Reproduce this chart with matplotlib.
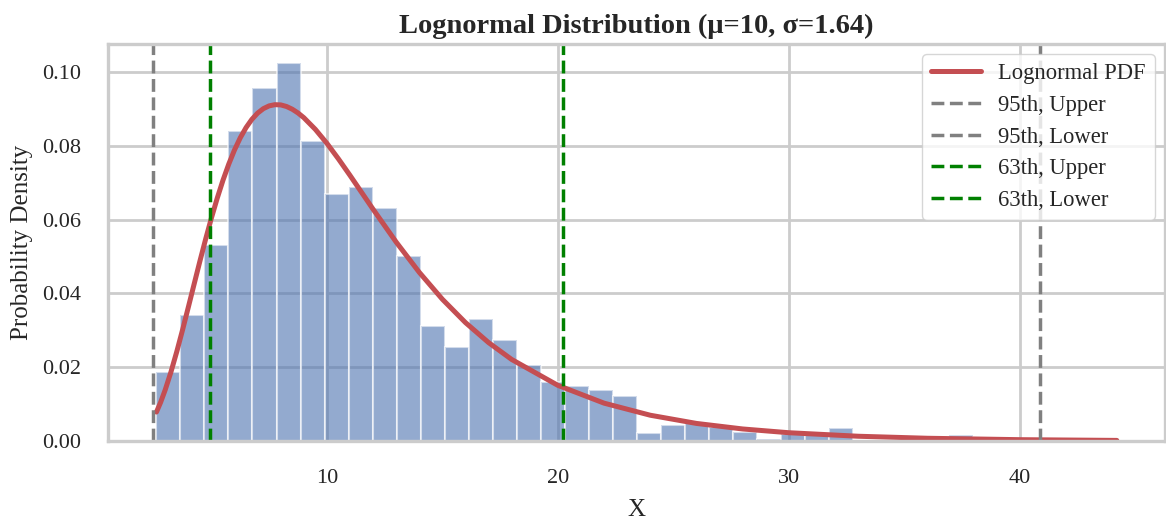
import numpy as np
import matplotlib
matplotlib.use('Agg')
import matplotlib.pyplot as plt
import seaborn as sns

# histogram: 40 equal bins between sample min and max, density heights
bin_lo = 2.62
bin_hi = 44.2
bin_heights = [0.0186, 0.0341, 0.0532, 0.0840, 0.0956, 0.1024, 0.0813, 0.0668, 0.0689, 0.0631,
               0.0502, 0.0313, 0.0255, 0.0332, 0.0273, 0.0207, 0.0159, 0.0148, 0.0139, 0.0121,
               0.0023, 0.0043, 0.0050, 0.0039, 0.0025, 0.0007, 0.0020, 0.0020, 0.0035, 0.0,
               0.0, 0.0, 0.0, 0.0018, 0.0, 0.0, 0.0, 0.0, 0.0, 0.0]

# lognormal pdf curve
pdf_x = [2.62, 2.8, 3.0, 3.25, 3.5, 3.75, 4.0, 4.25, 4.5, 4.75, 5.0, 5.25, 5.5, 5.75, 6.0,
         6.25, 6.5, 6.75, 7.0, 7.25, 7.5, 7.75, 8.0, 8.25, 8.5, 8.75, 9.0, 9.5, 10, 10.5,
         11, 11.5, 12, 13, 14, 15, 16, 17, 18, 20, 22, 24, 26, 28, 30, 33, 36, 40, 44.2]
pdf_y = [0.00788, 0.01051, 0.01391, 0.01878, 0.02425, 0.03013, 0.03628, 0.04251, 0.04871,
         0.05472, 0.06044, 0.06577, 0.07065, 0.07502, 0.07887, 0.08217, 0.08492, 0.08714,
         0.08884, 0.09005, 0.09080, 0.09112, 0.09106, 0.09063, 0.08989, 0.08887, 0.08760,
         0.08443, 0.08065, 0.07643, 0.07197, 0.06738, 0.06279, 0.05390, 0.04571, 0.03842,
         0.03210, 0.02669, 0.02212, 0.01511, 0.01029, 0.00702, 0.00480, 0.00330, 0.00228,
         0.00133, 0.00078, 0.00040, 0.00020]

# interval lines
p95 = {'upper': 40.87, 'lower': 2.45}
p63 = {'upper': 20.22, 'lower': 4.95}

sns.set_theme(style='whitegrid', context='notebook')
plt.rcParams['font.family'] = ['Liberation Serif', 'DejaVu Serif']
plt.rcParams['axes.edgecolor'] = '#cccccc'
plt.rcParams['axes.linewidth'] = 2.4
plt.rcParams['grid.linewidth'] = 2.0
plt.rcParams['grid.color'] = '#cccccc'

fig, ax = plt.subplots(figsize=(11.66, 5.19), dpi=100)

edges = np.linspace(bin_lo, bin_hi, len(bin_heights) + 1)
centers = (edges[:-1] + edges[1:]) / 2
ax.hist(centers, bins=edges, weights=bin_heights, color='#4C72B0', alpha=0.6,
        edgecolor='white', linewidth=1.5)

ax.plot(pdf_x, pdf_y, color='#C44E52', lw=3.6, label='Lognormal PDF',
        solid_joinstyle='round', solid_capstyle='round')
ax.axvline(p95['upper'], color='grey', ls='--', lw=2.5, label='95th, Upper')
ax.axvline(p95['lower'], color='grey', ls='--', lw=2.5, label='95th, Lower')
ax.axvline(p63['upper'], color='green', ls='--', lw=2.5, label='63th, Upper')
ax.axvline(p63['lower'], color='green', ls='--', lw=2.5, label='63th, Lower')

ax.set_ylim(bottom=0)
ax.set_xticks([10, 20, 30, 40])
ax.tick_params(axis='x', labelsize=16, pad=14)
ax.tick_params(axis='y', labelsize=16, pad=14)
ax.set_title('Lognormal Distribution (μ=10, σ=1.64)', fontsize=20.5, fontweight='bold', pad=8)
ax.set_xlabel('X', fontsize=18, labelpad=8)
ax.set_ylabel('Probability Density', fontsize=18, labelpad=6)
ax.legend(loc='upper right', fontsize=16.3, handlelength=2.2, handletextpad=0.75,
          labelspacing=0.47, borderaxespad=0.45)

fig.subplots_adjust(left=0.093, right=0.999, top=0.915, bottom=0.15)
fig.savefig('out.png', dpi=100)
